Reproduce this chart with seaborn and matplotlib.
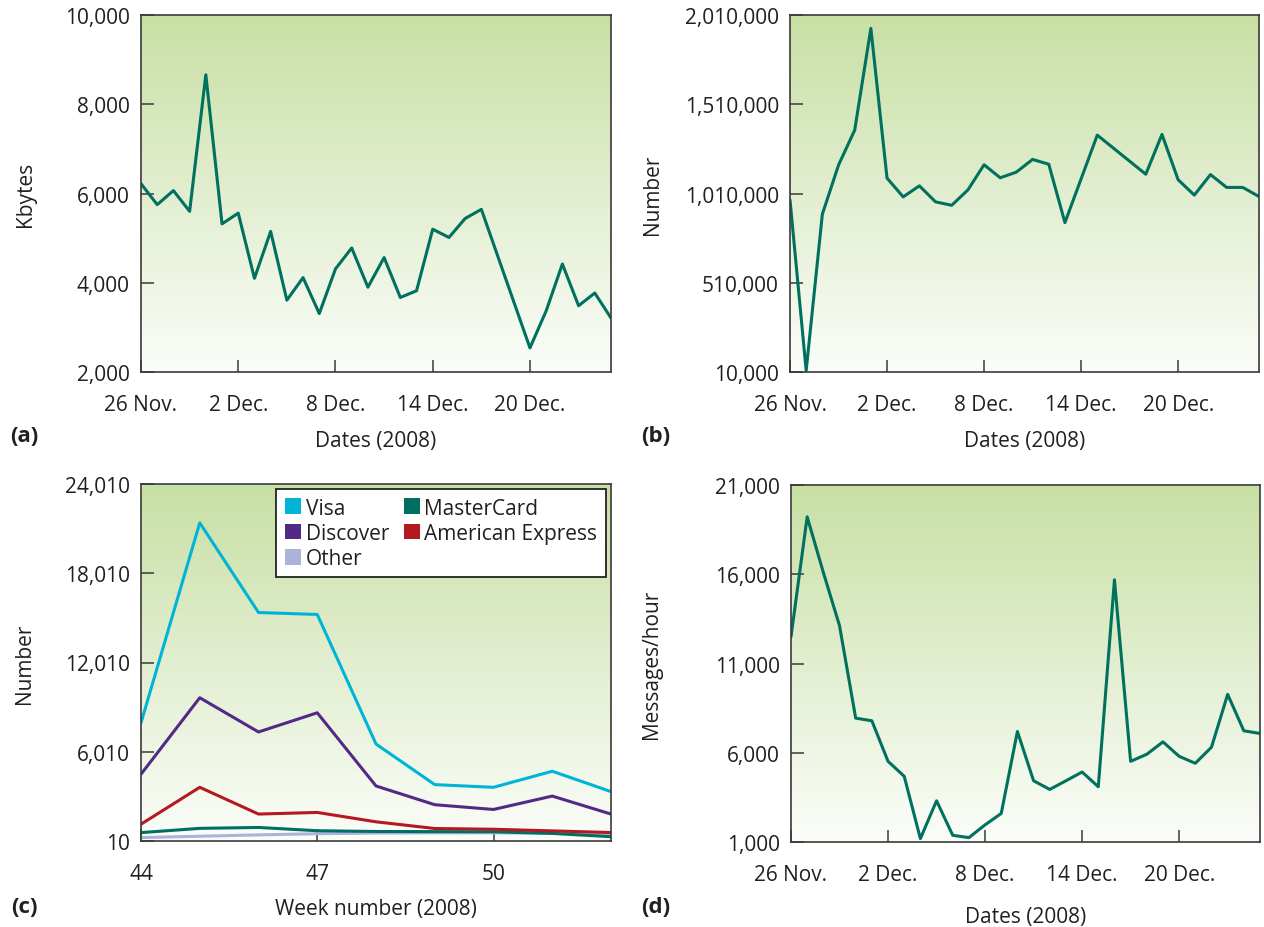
import matplotlib
matplotlib.use("Agg")
import numpy as np
import pandas as pd
import seaborn as sns
import matplotlib.pyplot as plt
from matplotlib.colors import LinearSegmentedColormap
from matplotlib.patches import Patch

# ---------------- data ----------------
# day offsets from 26 Nov. 2008
days_a = [0, 1, 2, 3, 4, 5, 6, 7, 8, 9, 10, 11, 12, 13, 14, 15, 16, 17, 18, 19, 20, 21,
          24, 25, 26, 27, 28, 29]
kbytes = [6220, 5750, 6065, 5600, 8660, 5320, 5560, 4100, 5150, 3610, 4115, 3310, 4310, 4780,
          3900, 4565, 3670, 3820, 5200, 5015, 5440, 5645, 2540, 3370, 4420, 3485, 3770, 3210]

days_b = [0, 1, 2, 3, 4, 5, 6, 7, 8, 9, 10, 11, 12, 13, 14, 15, 16, 17, 19, 22, 23, 24, 25,
          26, 27, 28, 29]
number_b = [974000, 18000, 894000, 1169000, 1365000, 1935000, 1096000, 991000, 1053000,
            963000, 944000, 1030000, 1171000, 1098000, 1130000, 1201000, 1174000, 847000,
            1337000, 1118000, 1341000, 1087000, 1001000, 1116000, 1044000, 1044000, 993000]

weeks = [44, 45, 46, 47, 48, 49, 50, 51, 52]
visa = [7950, 21400, 15370, 15240, 6530, 3800, 3620, 4700, 3330]
discover = [4500, 9640, 7340, 8630, 3710, 2450, 2130, 3030, 1820]
other = [240, 330, 420, 500, 540, 560, 560, 530, 480]
mastercard = [574, 860, 920, 700, 650, 640, 630, 520, 300]
amex = [1140, 3620, 1820, 1930, 1300, 850, 800, 690, 580]
card_names = ["Visa", "Discover", "Other", "MasterCard", "American Express"]

days_d = list(range(30))
msgs = [12500, 19216, 16100, 13120, 7940, 7790, 5520, 4680, 1190, 3310, 1375, 1245, 1960,
        2600, 7190, 4430, 3945, 4430, 4920, 4095, 15690, 5520, 5915, 6610, 5800, 5410, 6310,
        9270, 7230, 7080]

date_ticks = [0, 6, 12, 18, 24]
date_labels = ["26 Nov.", "2 Dec.", "8 Dec.", "14 Dec.", "20 Dec."]
yticks_a = [2000, 4000, 6000, 8000, 10000]
yticks_b = [10000, 510000, 1010000, 1510000, 2010000]
yticks_c = [10, 6010, 12010, 18010, 24010]
xticks_c = [44, 47, 50]
yticks_d = [1000, 6000, 11000, 16000, 21000]

# ---------------- style ----------------
sns.set_theme(style="white")
plt.rcParams["font.family"] = ["Open Sans", "DejaVu Sans"]
TXT = "#231f20"
SPINE = "#3a3a3a"
LINE = "#00705f"
FS = 15
card_colors = {"Visa": "#00b4d8", "Discover": "#522a86", "Other": "#aab4da",
               "MasterCard": "#006f62", "American Express": "#b3191f"}
grad_cmap = LinearSegmentedColormap.from_list("g", ["#c8e0a4", "#e2eed0", "#fbfdf9"])

W, H = 1264, 928
fig = plt.figure(figsize=(W / 100, H / 100), dpi=100)


def make_ax(l, t, r, b):
    ax = fig.add_axes([l / W, 1 - b / H, (r - l) / W, (b - t) / H])
    grad = np.linspace(0, 1, 256).reshape(-1, 1)
    ax.imshow(grad, cmap=grad_cmap, extent=[0, 1, 0, 1], transform=ax.transAxes,
              aspect="auto", zorder=0, interpolation="bicubic")
    for s in ax.spines.values():
        s.set_color(SPINE)
        s.set_linewidth(1.2)
        s.set_zorder(5)
    ax.tick_params(direction="in", length=9, width=1.1, color=SPINE, labelsize=FS,
                   labelcolor=TXT, bottom=True, left=True)
    ax.tick_params(axis="x", pad=16)
    ax.tick_params(axis="y", pad=8)
    return ax


def finish(ax, xlab, ylab, xl_y, yl_x):
    ax.set_xlabel(xlab, fontsize=FS, color=TXT)
    ax.set_ylabel(ylab, fontsize=FS, color=TXT)
    ax.xaxis.set_label_coords(0.5, xl_y)
    ax.yaxis.set_label_coords(yl_x, 0.5)
    ax.xaxis.label.set_verticalalignment("center")
    ax.yaxis.label.set_verticalalignment("center")


# (a)
ax = make_ax(141, 16, 611, 373)
sns.lineplot(x=days_a, y=kbytes, ax=ax, color=LINE, linewidth=2.2, estimator=None, zorder=3)
ax.set_xlim(0, 29)
ax.set_ylim(2000, 10000)
ax.set_xticks(date_ticks, date_labels)
ax.set_yticks(yticks_a, [f"{v:,}" for v in yticks_a])
finish(ax, "Dates (2008)", "Kbytes", (373 - 441) / 357, -116 / 470)

# (b)
ax = make_ax(790, 16, 1259, 373)
sns.lineplot(x=days_b, y=number_b, ax=ax, color=LINE, linewidth=2.2, estimator=None, zorder=3)
ax.set_xlim(0, 29)
ax.set_ylim(10000, 2010000)
ax.set_xticks(date_ticks, date_labels)
ax.set_yticks(yticks_b, [f"{v:,}" for v in yticks_b])
finish(ax, "Dates (2008)", "Number", (373 - 441) / 357, -138 / 469)

# (c)
ax = make_ax(141, 485, 611, 842)
df_c = pd.DataFrame({
    "week": weeks * 5,
    "count": visa + discover + other + mastercard + amex,
    "card": sum([[n] * len(weeks) for n in card_names], []),
})
draw_order = ["Other", "MasterCard", "American Express", "Discover", "Visa"]
sns.lineplot(data=df_c, x="week", y="count", hue="card", hue_order=draw_order,
             palette=card_colors, ax=ax, linewidth=2.2, estimator=None, legend=False, zorder=3)
ax.set_xlim(44, 52)
ax.set_ylim(10, 24010)
ax.set_xticks(xticks_c, [str(v) for v in xticks_c])
ax.set_yticks(yticks_c, [f"{v:,}" for v in yticks_c])
finish(ax, "Week number (2008)", "Number", (842 - 910) / 357, -116 / 470)
handles = [Patch(facecolor=card_colors[n], edgecolor="none", label=n) for n in card_names]
leg = ax.legend(handles=handles, ncol=2, loc="upper right", bbox_to_anchor=(1, 1),
                borderaxespad=0.25, fontsize=FS, frameon=True, fancybox=False,
                handlelength=0.8, handleheight=0.8, handletextpad=0.2,
                columnspacing=0.7, labelspacing=0.2, borderpad=0.4)
leg.get_frame().set_edgecolor("#222222")
leg.get_frame().set_linewidth(1.3)
leg.get_frame().set_facecolor("white")
leg.get_frame().set_alpha(1)
leg.set_zorder(6)
for t in leg.get_texts():
    t.set_color(TXT)

# (d)
ax = make_ax(791, 486, 1260, 843)
sns.lineplot(x=days_d, y=msgs, ax=ax, color=LINE, linewidth=2.2, estimator=None, zorder=3)
ax.set_xlim(0, 29)
ax.set_ylim(1000, 21000)
ax.set_xticks(date_ticks, date_labels)
ax.set_yticks(yticks_d, [f"{v:,}" for v in yticks_d])
finish(ax, "Dates (2008)", "Messages/hour", (843 - 918) / 357, -139 / 469)

# panel letters
for lab, x, y in [("(a)", 24, 437), ("(b)", 656, 437), ("(c)", 24, 908), ("(d)", 656, 908)]:
    fig.text(x / W, 1 - y / H, lab, fontsize=FS + 1, fontweight="bold", color=TXT,
             ha="center", va="center")

fig.savefig("out.png", dpi=100)
